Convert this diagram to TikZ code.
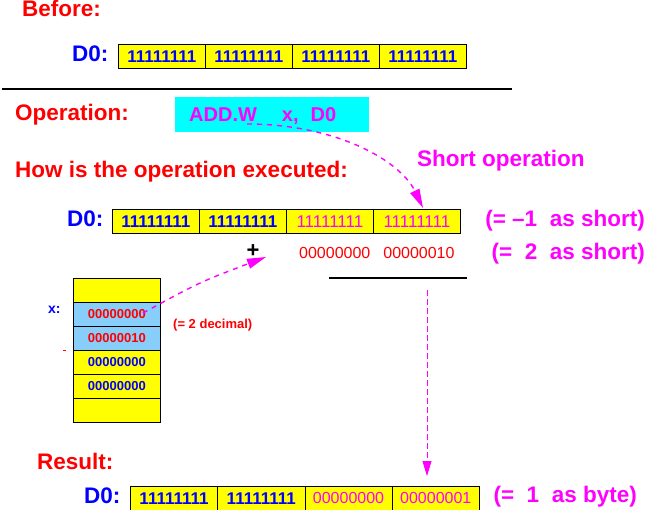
\documentclass[tikz,border=0pt]{standalone}
\usepackage{fontspec}
\setmainfont{Liberation Sans}
\usetikzlibrary{arrows.meta}
\definecolor{myyellow}{RGB}{255,255,0}
\definecolor{mycyan}{RGB}{0,255,255}
\definecolor{mylblue}{RGB}{135,206,250}
\definecolor{mymag}{RGB}{255,0,255}
\definecolor{myred}{RGB}{255,0,0}
\definecolor{myblue}{RGB}{0,0,255}
\begin{document}
\begin{tikzpicture}[x=1pt,y=-1pt,
  lbl/.style={font=\fontsize{22.5}{26}\selectfont\bfseries, anchor=base west, inner sep=0pt},
  lble/.style={lbl, anchor=base east},
  regcell/.style={draw=black, fill=myyellow, line width=0.8pt, minimum width=87pt, minimum height=24pt, inner sep=0pt, anchor=north west, font=\fontsize{17}{19}\selectfont\bfseries},
  lightdig/.style={font=\fontsize{16}{18}\selectfont},
  lightone/.style={font=\fontsize{17}{19}\selectfont},
  memcell/.style={regcell, font=\fontsize{13}{15}\selectfont\bfseries},
  flow/.style={draw=mymag, line width=1.4pt, dash pattern=on 5pt off 5pt, -{Triangle[length=19pt,width=10pt]}},
  vflow/.style={draw=mymag, line width=0.9pt, dash pattern=on 6pt off 3pt, -{Triangle[length=15pt,width=9pt]}},
  rule/.style={draw=black, line width=2pt}
]
\useasboundingbox (0,0) rectangle (650,510);

% ---- Before ----
\node[lbl, text=myred] (before) at (22,17) {Before:};
\node[lbl, text=myblue] (d0a) at (72,62) {D0:};
\node[regcell, text=myblue] (a1) at (118,44) {11111111};
\node[regcell, text=myblue] (a2) at (205,44) {11111111};
\node[regcell, text=myblue] (a3) at (292,44) {11111111};
\node[regcell, text=myblue] (a4) at (379,44) {11111111};

\coordinate (sepL) at (2,89);
\coordinate (sepR) at (512,89);
\draw[rule] (sepL) -- (sepR);

% ---- Operation ----
\node[lbl, text=myred] (oplbl) at (15,121) {Operation:};
\node[fill=mycyan, anchor=north west, minimum width=194pt, minimum height=35pt, inner sep=0pt] (opbox) at (175,97) {};
\node[font=\fontsize{20}{24}\selectfont\bfseries, text=mymag, anchor=base west, inner sep=0pt] (optext) at (189,122) {ADD.W\hspace{25pt}x,\hspace{12pt}D0};
\node[lbl, text=mymag] (short) at (417,167) {Short operation};
\node[lbl, text=myred] (how) at (15,178) {How is the operation executed:};

% ---- D0 before add ----
\node[lbl, text=myblue] (d0b) at (67,227) {D0:};
\node[regcell, text=myblue] (b1) at (112,209) {11111111};
\node[regcell, text=myblue] (b2) at (199,209) {11111111};
\node[regcell, lightone, text=mymag] (b3) at (286,209) {11111111};
\node[regcell, lightone, text=mymag] (b4) at (373,209) {11111111};
\node[lble, text=mymag] (neg1) at (645,227) {(= –1\ \ as short)};

\node[font=\fontsize{22}{22}\selectfont\bfseries, inner sep=0pt] (plus) at (253,251) {+};
\node[lightdig, text=myred, anchor=base west, inner sep=0pt] (addend) at (299,259) {00000000\hspace{13pt}00000010};
\node[lble, text=mymag] (two) at (645,260) {(=\ \ 2\ \ as short)};
\coordinate (sumL) at (329,278);
\coordinate (sumR) at (467,278);
\draw[rule] (sumL) -- (sumR);

% ---- memory ----
\node[memcell] (m1) at (73,278) {};
\node[memcell, fill=mylblue, text=myred] (m2) at (73,302) {00000000};
\node[memcell, fill=mylblue, text=myred] (m3) at (73,326) {00000010};
\node[memcell, text=myblue] (m4) at (73,350) {00000000};
\node[memcell, text=myblue] (m5) at (73,374) {00000000};
\node[memcell] (m6) at (73,398) {};
\node[font=\fontsize{14}{16}\selectfont\bfseries, text=myblue, anchor=base west, inner sep=0pt] (xlbl) at (48,313) {x:};
\node[font=\fontsize{13}{15}\selectfont\bfseries, text=myred, anchor=base west, inner sep=0pt] (dec) at (173,328) {(= 2 decimal)};
\coordinate (dotL) at (63,350);
\coordinate (dotR) at (66,350);
\draw[myred, line width=1pt] (dotL) -- (dotR);

% ---- arrows ----
\coordinate (opstart) at (247,124);
\coordinate (opend) at (423,208);
\draw[flow] (opstart) .. controls (335,124) and (400,160) .. (opend);
\coordinate (memstart) at (143,313);
\coordinate (plustip) at (266,257);
\draw[flow] (memstart) .. controls (200,282) .. (plustip);
\coordinate (vstart) at (427,290);
\coordinate (vend) at (427,476);
\draw[vflow] (vstart) -- (vend);

% ---- Result ----
\node[lbl, text=myred] (res) at (37,469) {Result:};
\node[lbl, text=myblue] (d0c) at (84,503) {D0:};
\node[regcell, minimum width=87.25pt, text=myblue] (c1) at (130,486) {11111111};
\node[regcell, minimum width=87.25pt, text=myblue] (c2) at (217.25,486) {11111111};
\node[regcell, lightdig, minimum width=87.25pt, text=mymag] (c3) at (304.5,486) {00000000};
\node[regcell, lightdig, minimum width=87.25pt, text=mymag] (c4) at (391.75,486) {00000001};
\node[lble, text=mymag] (one) at (637,502) {(=\ \ 1\ \ as byte)};
\end{tikzpicture}
\end{document}
